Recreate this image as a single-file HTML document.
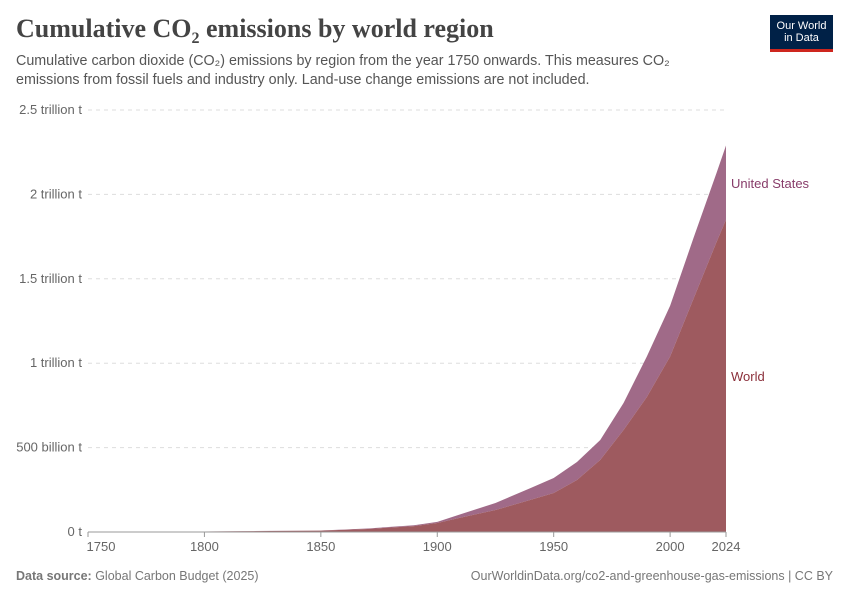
<!DOCTYPE html>
<html><head><meta charset="utf-8"><style>
body{margin:0;background:#fff;font-family:"Liberation Sans",sans-serif}
#wrap{position:relative;width:850px;height:600px;overflow:hidden}
.t{position:absolute;white-space:nowrap}
</style></head><body>
<div id="wrap">
<div class="t" style="left:16px;top:14px;font-family:'Liberation Serif',serif;font-size:26px;font-weight:bold;color:#444">Cumulative CO<sub style="font-size:16px">2</sub> emissions by world region</div>
<div class="t" style="left:16px;top:52px;font-size:14.3px;color:#555;line-height:19px;white-space:normal;width:700px">Cumulative carbon dioxide (CO₂) emissions by region from the year 1750 onwards. This measures CO₂ emissions from fossil fuels and industry only. Land-use change emissions are not included.</div>
<div style="position:absolute;left:770px;top:15px;width:63px;height:37px;background:#002147;border-bottom:3px solid #ce261e;box-sizing:border-box;color:#fff;font-size:11px;line-height:12px;text-align:center;padding-top:5px">Our World<br>in Data</div>
<svg id="chart" width="850" height="600" style="position:absolute;left:0;top:0"></svg>
<div class="t" style="left:16px;top:569px;font-size:12.5px;color:#777"><b style="font-weight:bold">Data source:</b> Global Carbon Budget (2025)</div>
<div class="t" style="right:17px;top:569px;font-size:12.5px;color:#777">OurWorldinData.org/co2-and-greenhouse-gas-emissions | CC BY</div>
</div>
<script>
const years=[1750,1800,1850,1870,1890,1900,1910,1925,1940,1950,1960,1970,1980,1990,2000,2010,2020,2024];
const worldVals=[0,3,8,18,35,53,85,130,190,231,308,427,604,800,1040,1380,1720,1850];
const usVals=[0,0,1,3,5,7,20,42,70,89,107,118,160,240,300,360,410,440];
const yTicks=[0,500,1000,1500,2000,2500];
const yTickLabels=["0 t","500 billion t","1 trillion t","1.5 trillion t","2 trillion t","2.5 trillion t"];
const xTicks=[1750,1800,1850,1900,1950,2000,2024];
const ns="http://www.w3.org/2000/svg";
const svg=document.getElementById('chart');
const X=y=>88+(y-1750)*(638/274);
const Y=v=>532-v*0.1688;
function mk(tag,attrs){const e=document.createElementNS(ns,tag);for(const k in attrs)e.setAttribute(k,attrs[k]);svg.appendChild(e);return e;}
yTicks.forEach((v,i)=>{
  if(v>0){const g=mk('line',{x1:88,x2:726,y1:Y(v),y2:Y(v),stroke:'#ddd','stroke-dasharray':'4,4'});
  
  }
  const t=mk('text',{x:82,y:Y(v)+4,'text-anchor':'end','font-size':13,fill:'#666','font-family':'Liberation Sans,sans-serif'});
  t.textContent=yTickLabels[i];
  
  
});
const stackTop=years.map((y,i)=>worldVals[i]+usVals[i]);
let dW='M'+X(years[0])+','+Y(0);
years.forEach((y,i)=>dW+='L'+X(y)+','+Y(worldVals[i]));
dW+='L'+X(years[years.length-1])+','+Y(0)+'Z';
let dU='M'+X(years[0])+','+Y(worldVals[0]);
years.forEach((y,i)=>dU+='L'+X(y)+','+Y(stackTop[i]));
for(let i=years.length-1;i>=0;i--)dU+='L'+X(years[i])+','+Y(worldVals[i]);
dU+='Z';
const pu=mk('path',{d:dU,fill:'#a06a88'});


const pw=mk('path',{d:dW,fill:'#9e5a5f'});


const ax=mk('line',{x1:88,x2:726,y1:532,y2:532,stroke:'#999'});


xTicks.forEach(y=>{
  const tk=mk('line',{x1:X(y),x2:X(y),y1:532,y2:537,stroke:'#999'});
  
  
  let lx=X(y);if(y===1750)lx=101;
  const t=mk('text',{x:lx,y:551,'text-anchor':'middle','font-size':13,fill:'#666','font-family':'Liberation Sans,sans-serif'});
  t.textContent=y;
  
  
});
const n=years.length-1;
const l1=mk('text',{x:731,y:188,'font-size':13,fill:'#883d6a','font-family':'Liberation Sans,sans-serif'});
l1.textContent='United States';


const l2=mk('text',{x:731,y:381,'font-size':13,fill:'#8b2f3a','font-family':'Liberation Sans,sans-serif'});
l2.textContent='World';


</script>
</body></html>
